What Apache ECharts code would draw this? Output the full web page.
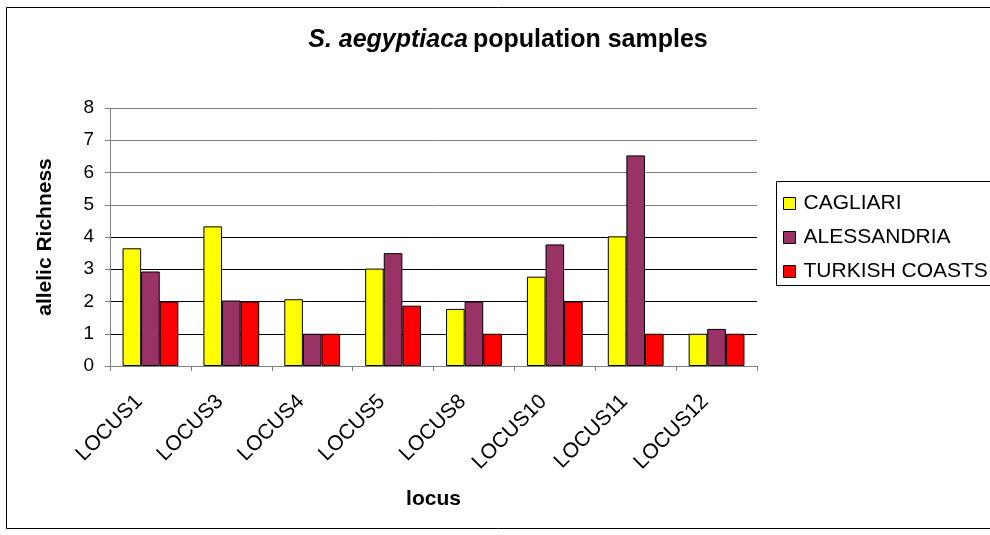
<!DOCTYPE html>
<html><head><meta charset="utf-8">
<script src="https://cdn.jsdelivr.net/npm/echarts@6/dist/echarts.min.js"></script>
<style>html,body{margin:0;padding:0;background:#fff}#c{width:990px;height:535px}</style>
</head><body><div id="c"></div>
<script>
const categories = ['LOCUS1','LOCUS3','LOCUS4','LOCUS5','LOCUS8','LOCUS10','LOCUS11','LOCUS12'];
const cagliari = [3.65, 4.33, 2.07, 3.02, 1.77, 2.77, 4.02, 1.0];
const alessandria = [2.93, 2.03, 1.0, 3.5, 2.0, 3.77, 6.53, 1.15];
const turkish = [2.0, 2.0, 1.0, 1.87, 1.0, 2.0, 1.0, 1.0];
const yTicks = [0,1,2,3,4,5,6,7,8];

const chart = echarts.init(document.getElementById('c'), null, {renderer:'canvas'});
const font = 'Liberation Sans, Arial, sans-serif';
function mk(name, data, color){
  return {name, type:'bar', data, barGap:'0%', barCategoryGap:'31%',
    itemStyle:{color, borderColor:'#000', borderWidth:1}};
}
chart.setOption({
  animation:false,
  backgroundColor:'#fff',
  textStyle:{fontFamily:font},
  title:{
    text:'{i|S. aegyptiaca} {b|population samples}',
    left:508, top:28, textAlign:'center', padding:0,
    textStyle:{rich:{
      i:{fontStyle:'italic', fontWeight:'bold', fontSize:25, fontFamily:font, color:'#000'},
      b:{fontWeight:'bold', fontSize:25, fontFamily:font, color:'#000'}
    }}
  },
  graphic:[
    {type:'rect', shape:{x:6.5,y:7.5,width:1000,height:521}, style:{fill:null, stroke:'#000', lineWidth:1}, silent:true, z:-1},
    {type:'rect', shape:{x:776.5,y:181.5,width:230,height:104}, style:{fill:'#fff', stroke:'#000', lineWidth:1}, silent:true, z:0}
  ],
  legend:{
    orient:'vertical', left:783, top:193, itemWidth:12, itemHeight:12, itemGap:13,
    icon:'rect', z:5, padding:0,
    textStyle:{fontSize:21, lineHeight:21, fontFamily:font, color:'#000', padding:[0,0,0,3]},
    itemStyle:{borderColor:'#000', borderWidth:1}
  },
  grid:{left:110, right:233, top:108, bottom:169, containLabel:false},
  xAxis:{
    type:'category', data:categories,
    name:'locus', nameLocation:'middle', nameGap:123,
    nameTextStyle:{fontWeight:'bold', fontSize:21, fontFamily:font, color:'#000'},
    axisLine:{lineStyle:{color:'#808080', width:1}},
    axisTick:{show:true, alignWithLabel:false, length:5, lineStyle:{color:'#808080'}},
    axisLabel:{rotate:45, fontSize:21, color:'#000', fontFamily:font, margin:21, interval:0, padding:[0,16,0,0]}
  },
  yAxis:{
    type:'value', min:0, max:8, interval:1,
    name:'allelic Richness', nameLocation:'middle', nameGap:54,
    nameTextStyle:{fontWeight:'bold', fontSize:21, fontFamily:font, color:'#000'},
    axisLine:{show:true, lineStyle:{color:'#808080'}},
    axisTick:{show:true, length:5, lineStyle:{color:'#808080'}},
    axisLabel:{fontSize:19, color:'#000', fontFamily:font, margin:16,
      formatter:function(v){return yTicks.indexOf(v)>=0 ? String(v) : '';}},
    splitLine:{lineStyle:{color:['#000','#000','#000','#000','#000','#808080','#808080','#808080','#808080'], width:1}}
  },
  series:[mk('CAGLIARI',cagliari,'#FFFF00'), mk('ALESSANDRIA',alessandria,'#993366'), mk('TURKISH COASTS',turkish,'#FF0000')]
});
</script></body></html>
